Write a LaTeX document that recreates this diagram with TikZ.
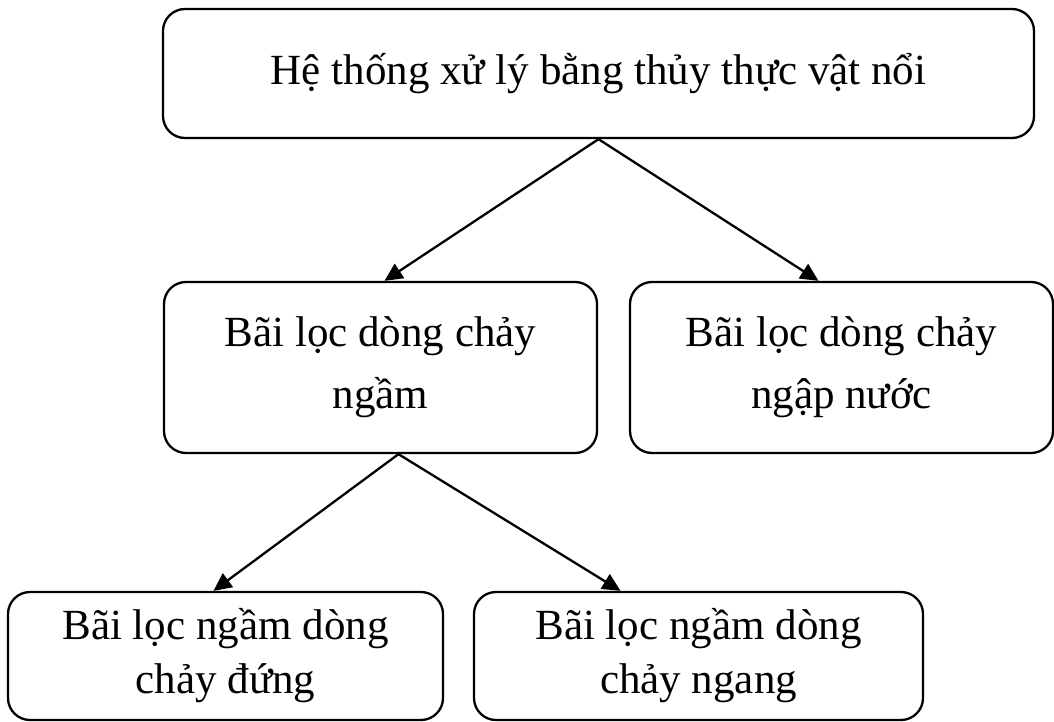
\documentclass[tikz,border=0pt]{standalone}
\usepackage{fontspec}
\setmainfont{Liberation Serif}
\usetikzlibrary{arrows.meta}

\tikzset{
  heebox/.style={draw, line width=2.3pt, rounded corners=22pt, inner sep=0pt,
    align=center, font=\fontsize{43}{62}\selectfont},
  heearrow/.style={line width=2.3pt, -{Triangle[length=18pt,width=17pt]}}
}

\begin{document}
\begin{tikzpicture}[x=1pt, y=-1pt]

            \useasboundingbox (0,0) rectangle (1054,722);

            % --------------------------------------------------
            % Boxes
            % --------------------------------------------------
            \node[heebox, minimum width=871pt, minimum height=129pt] (hethong) at (598.5,73.5)
                {Hệ thống xử lý bằng thủy thực vật nổi};
            \node[heebox, minimum width=433pt, minimum height=171pt] (ngam) at (380.5,367.5)
                {Bãi lọc dòng chảy\\ngầm};
            \node[heebox, minimum width=423pt, minimum height=171pt] (ngapnuoc) at (841.5,367.5)
                {Bãi lọc dòng chảy\\ngập nước};
            \node[heebox, font=\fontsize{43}{54}\selectfont, minimum width=435pt, minimum height=128pt] (dung) at (225.5,656)
                {Bãi lọc ngầm dòng\\chảy đứng};
            \node[heebox, font=\fontsize{43}{54}\selectfont, minimum width=449pt, minimum height=128pt] (ngang) at (698.5,656)
                {Bãi lọc ngầm dòng\\chảy ngang};

            % --------------------------------------------------
            % Arrows
            % --------------------------------------------------
            \draw[heearrow] (hethong.south) -- ([xshift=4pt]ngam.north);
            \draw[heearrow] (hethong.south) -- ([xshift=-23pt]ngapnuoc.north);
            \draw[heearrow] ([xshift=18pt]ngam.south) -- ([xshift=-12pt]dung.north);
            \draw[heearrow] ([xshift=18pt]ngam.south) -- ([xshift=-78pt]ngang.north);

        \end{tikzpicture}
\end{document}
